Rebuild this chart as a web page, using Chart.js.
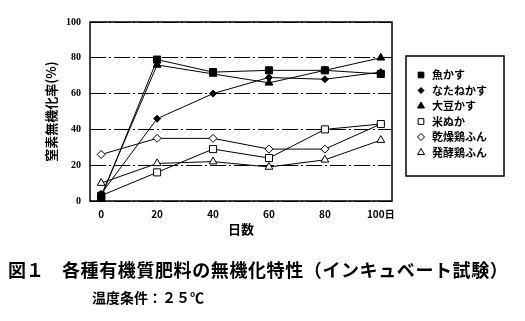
<!DOCTYPE html>
<html>
<head>
<meta charset="utf-8">
<script src="https://cdn.jsdelivr.net/npm/chart.js@4/dist/chart.umd.min.js"></script>
<style>
  html, body { margin: 0; padding: 0; background: #fff; }
  #wrap { position: relative; width: 525px; height: 321px; overflow: hidden; }
  #c { position: absolute; left: 0; top: 0; }
  .cap { position: absolute; font-family: "Noto Sans CJK JP", sans-serif; color: #000; white-space: nowrap; line-height: 1; }
</style>
</head>
<body>
<div id="wrap">
  <canvas id="c" width="525" height="321"></canvas>
  <div class="cap" style="left:8px; top:260px; font-size:18px; font-weight:bold;">図１</div>
  <div class="cap" style="left:62px; top:260px; font-size:18px; font-weight:bold; letter-spacing:0.6px;">各種有機質肥料の無機化特性（インキュベート試験）</div>
  <div class="cap" style="left:92px; top:290px; font-size:14px; font-weight:bold;">温度条件：２５℃</div>
</div>
<script>
// 日数
const days = [0, 20, 40, 60, 80, 100];
const xTickLabels = ['0', '20', '40', '60', '80', '100日'];

// 窒素無機化率(%)
const uoKasu = [2, 79, 72, 73, 73, 71];        // 魚かす
const nataneKasu = [4, 46, 60, 69, 68, 72];    // なたねかす
const daizuKasu = [3, 76, 71, 66, 73, 80];     // 大豆かす
const komeNuka = [3, 16, 29, 24, 40, 43];      // 米ぬか
const kansoKeifun = [26, 35, 35, 29, 29, 43];  // 乾燥鶏ふん
const hakkoKeifun = [10, 21, 22, 19, 23, 34];  // 発酵鶏ふん

const toPts = arr => arr.map((v, i) => ({ x: days[i], y: v }));

const mkSet = (label, vals, style, filled, radius) => ({
  label: label,
  data: toPts(vals),
  borderColor: '#000',
  borderWidth: 1,
  pointStyle: style,
  pointRadius: radius,
  pointBackgroundColor: filled ? '#000' : '#fff',
  pointBorderColor: '#000',
  pointBorderWidth: 1,
  fill: false,
  tension: 0
});

const datasets = [
  mkSet('魚かす', uoKasu, 'rect', true, 5),
  mkSet('なたねかす', nataneKasu, 'rectRot', true, 3.5),
  mkSet('大豆かす', daizuKasu, 'triangle', true, 4.5),
  mkSet('米ぬか', komeNuka, 'rect', false, 5),
  mkSet('乾燥鶏ふん', kansoKeifun, 'rectRot', false, 4),
  mkSet('発酵鶏ふん', hakkoKeifun, 'triangle', false, 4.5)
];

// frame around the plot area
const frame = {
  id: 'frame',
  afterDatasetsDraw(chart) {
    const a = chart.chartArea, ctx = chart.ctx;
    ctx.save();
    ctx.strokeStyle = '#000';
    ctx.lineWidth = 1.5;
    ctx.strokeRect(a.left, a.top, a.right - a.left, a.bottom - a.top);
    ctx.restore();
  }
};

// legend box on the right
const boxLegend = {
  id: 'boxLegend',
  afterDraw(chart) {
    const ctx = chart.ctx;
    ctx.save();
    ctx.strokeStyle = '#000';
    ctx.lineWidth = 1.5;
    ctx.strokeRect(406, 56, 98, 120);
    ctx.font = 'bold 11px "Noto Sans CJK JP"';
    ctx.textBaseline = 'middle';
    chart.data.datasets.forEach((ds, i) => {
      const y = 75 + i * 15.5;
      ctx.fillStyle = ds.pointBackgroundColor;
      ctx.strokeStyle = '#000';
      ctx.lineWidth = 1;
      const r = ds.pointStyle === 'rect' ? ds.pointRadius - 1 : ds.pointRadius - 0.5;
      Chart.helpers.drawPoint(ctx, { pointStyle: ds.pointStyle, radius: r, rotation: 0, borderWidth: 1 }, 421, y);
      ctx.fillStyle = '#000';
      ctx.fillText(ds.label, 432, y);
    });
    ctx.restore();
  }
};

new Chart(document.getElementById('c'), {
  type: 'line',
  data: { datasets: datasets },
  options: {
    responsive: false,
    animation: false,
    layout: { padding: { left: 0, top: 22, right: 133, bottom: 0 } },
    plugins: { legend: { display: false }, tooltip: { enabled: false } },
    scales: {
      x: {
        type: 'linear',
        min: -4,
        max: 104,
        afterFit: s => { s.height = 120; },
        afterBuildTicks: s => { s.ticks = days.map(v => ({ value: v })); },
        grid: { display: false, drawTicks: false },
        border: { display: false },
        ticks: {
          padding: 7,
          color: '#000',
          font: { family: '"Liberation Sans Narrow", "Noto Sans CJK JP"', size: 10, weight: 'bold' },
          callback: (v, i) => xTickLabels[i]
        },
        title: {
          display: true,
          text: '日数',
          color: '#000',
          font: { family: '"Noto Sans CJK JP"', size: 13, weight: 'bold' },
          padding: { top: 0, bottom: 84 }
        }
      },
      y: {
        min: 0,
        max: 100,
        afterFit: s => { s.width = 90; },
        grid: { color: '#000', lineWidth: 1, drawTicks: false },
        border: { display: false, dash: [16, 3, 2, 3] },
        ticks: {
          stepSize: 20,
          padding: 9,
          color: '#000',
          font: { family: '"Liberation Sans Narrow"', size: 10, weight: 'bold' }
        },
        title: {
          display: true,
          text: '窒素無機化率(%)',
          color: '#000',
          font: { family: '"Noto Sans CJK JP"', size: 13, weight: 'bold' },
          padding: { top: 43, bottom: 0 }
        }
      }
    }
  },
  plugins: [frame, boxLegend]
});
</script>
</body>
</html>
